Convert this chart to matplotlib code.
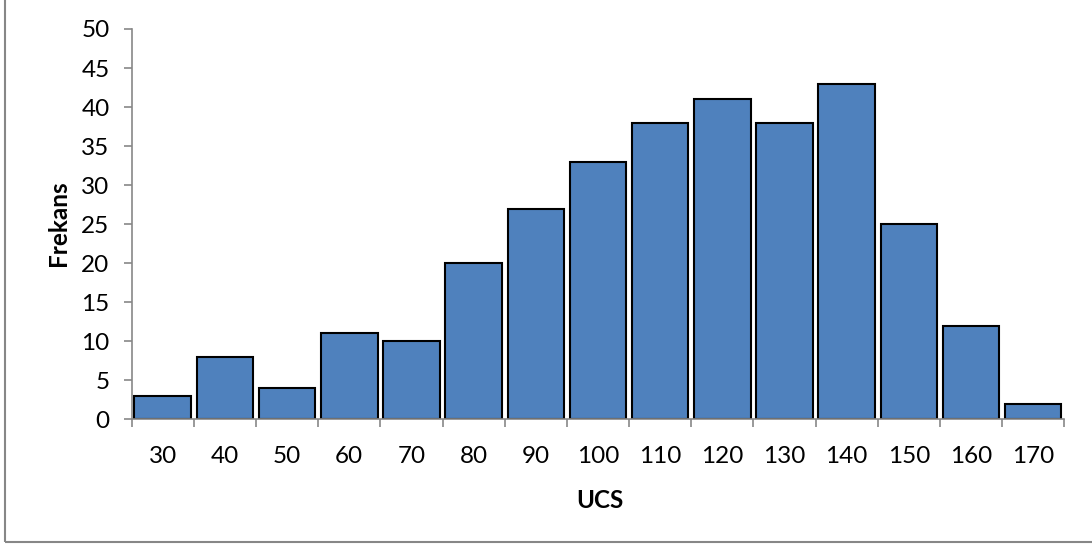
import numpy as np
import matplotlib.pyplot as plt
from matplotlib.patches import Rectangle

# UCS class centers and their frequencies
ucs = [30, 40, 50, 60, 70, 80, 90, 100, 110, 120, 130, 140, 150, 160, 170]
frekans = [3, 8, 4, 11, 10, 20, 27, 33, 38, 41, 38, 43, 25, 12, 2]

plt.rcParams['font.family'] = ['Lato', 'DejaVu Sans']

fig = plt.figure(figsize=(10.92, 5.44), dpi=100)
ax = fig.add_axes([0.1206, 0.2292, 0.854, 0.7175])

x = np.arange(len(ucs))
ax.bar(x, frekans, width=0.91, color='#4F81BD', edgecolor='black', linewidth=1.5)

ax.set_xlim(-0.5, len(ucs) - 0.5)
ax.set_ylim(0, 50)
ax.set_yticks(range(0, 51, 5))
ax.set_xticks(x)
ax.set_xticklabels([str(v) for v in ucs])
# tick marks sit between the categories, like Excel
ax.set_xticks(np.arange(-0.5, len(ucs)), minor=True)
ax.tick_params(axis='x', which='major', length=0, pad=19, labelsize=17.5)
ax.tick_params(axis='x', which='minor', length=6, color='#878787', width=1.2)
ax.tick_params(axis='y', length=6, color='#878787', width=1.2, labelsize=17.5, pad=10)

for s in ['top', 'right']:
    ax.spines[s].set_visible(False)
for s in ['left', 'bottom']:
    ax.spines[s].set_color('#878787')
    ax.spines[s].set_linewidth(1.2)

fig.text(600 / 1092, 1 - 500 / 544, 'UCS', ha='center', va='center',
         fontsize=17.5, fontweight='bold')
fig.text(58 / 1092, 1 - 223 / 544, 'Frekans', ha='center', va='center',
         fontsize=17.5, fontweight='bold', rotation=90)

# outer chart border (cropped on top and right)
fig.patches.append(Rectangle((5 / 1092, 2 / 544), 1.2, 1.2, transform=fig.transFigure,
                             fill=False, edgecolor='#878787', linewidth=1.5))

fig.savefig('out.png', dpi=100)
